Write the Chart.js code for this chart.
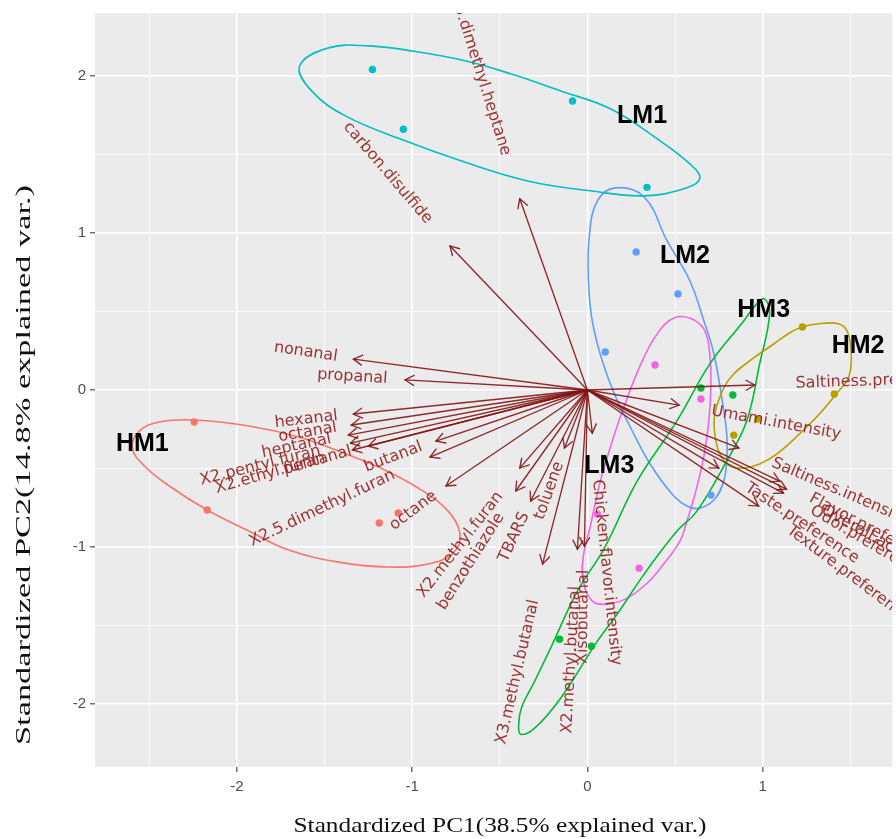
<!DOCTYPE html>
<html><head><meta charset="utf-8">
<script src="https://cdn.jsdelivr.net/npm/chart.js@4/dist/chart.umd.min.js"></script>
<style>html,body{margin:0;padding:0;background:#fff;overflow:hidden}#wrap{width:896px;height:839px;position:relative}</style>
</head><body><div id="wrap"><canvas id="c" width="896" height="839"></canvas></div>
<script>
// ---- axis settings ----
const xTicks = [-2, -1, 0, 1];
const yTicks = [-2, -1, 0, 1, 2];
const xTitle = "Standardized PC1(38.5% explained var.)";
const yTitle = "Standardized PC2(14.8% explained var.)";

// ---- groups ----
const groupNames = ["HM1", "HM2", "HM3", "LM1", "LM2", "LM3"];
const groupColors = ["#F8766D", "#B79F00", "#00BA38", "#00BFC4", "#619CFF", "#F564E3"];

// sample scores (PC1, PC2)
const hm1X = [-2.244, -2.170, -1.188, -1.080];
const hm1Y = [-0.204, -0.764, -0.847, -0.783];
const hm2X = [1.227, 1.409, 0.972, 0.835];
const hm2Y = [0.401, -0.025, -0.185, -0.287];
const hm3X = [0.648, 0.830, -0.159, 0.023];
const hm3Y = [0.013, -0.032, -1.586, -1.631];
const lm1X = [-1.227, -1.050, -0.085, 0.340];
const lm1Y = [2.040, 1.660, 1.840, 1.290];
const lm2X = [0.278, 0.517, 0.102, 0.705];
const lm2Y = [0.879, 0.611, 0.242, -0.669];
const lm3X = [0.386, 0.648, 0.057, 0.295];
const lm3Y = [0.159, -0.057, -0.790, -1.134];

// ellipse outlines (closed curves)
const hm1EllX = [-2.597,-2.557,-2.443,-2.244,-1.932,-1.648,-1.420,-1.193,-0.966,-0.795,-0.727,-0.767,-0.909,-1.136,-1.420,-1.705,-1.932,-2.170,-2.386,-2.528];
const hm1EllY = [-0.369,-0.261,-0.204,-0.191,-0.229,-0.299,-0.389,-0.490,-0.624,-0.771,-0.917,-1.038,-1.108,-1.127,-1.096,-1.019,-0.898,-0.764,-0.611,-0.484];
const hm2EllX = [1.210,1.307,1.438,1.489,1.506,1.489,1.420,1.324,1.210,1.080,0.983,0.892,0.813,0.756,0.727,0.727,0.778,0.835,0.949,1.063,1.153];
const hm2EllY = [0.395,0.420,0.420,0.357,0.204,0.076,-0.025,-0.153,-0.280,-0.408,-0.471,-0.497,-0.484,-0.408,-0.280,-0.153,0.013,0.102,0.204,0.293,0.363];
const hm3EllX = [1.011,1.040,0.983,0.909,0.795,0.625,0.511,0.324,0.170,0.057,-0.153,-0.301,-0.381,-0.392,-0.375,-0.301,-0.210,-0.057,0.097,0.284,0.511,0.699,0.892,0.966];
const hm3EllY = [0.580,0.484,0.166,-0.197,-0.452,-0.771,-0.898,-1.172,-1.427,-1.599,-1.962,-2.153,-2.191,-2.125,-2.020,-1.854,-1.643,-1.280,-1.006,-0.580,-0.197,0.166,0.439,0.548];
const lm1EllX = [-1.642,-1.477,-1.250,-1.006,-0.699,-0.438,-0.153,0.131,0.415,0.585,0.642,0.568,0.324,0.017,-0.341,-0.722,-1.040,-1.381,-1.574];
const lm1EllY = [2.064,2.178,2.191,2.159,2.096,2.013,1.904,1.790,1.586,1.439,1.350,1.287,1.236,1.268,1.331,1.459,1.586,1.745,1.904];
const lm2EllX = [0.159,0.324,0.455,0.585,0.665,0.722,0.767,0.795,0.795,0.778,0.727,0.642,0.568,0.483,0.358,0.256,0.159,0.085,0.028,0.006,0.011,0.057];
const lm2EllY = [1.287,1.229,0.949,0.694,0.439,0.229,-0.051,-0.280,-0.452,-0.580,-0.694,-0.752,-0.739,-0.662,-0.471,-0.261,-0.038,0.185,0.439,0.694,0.981,1.204];
const lm3EllX = [0.494,0.597,0.670,0.699,0.705,0.693,0.665,0.619,0.568,0.528,0.426,0.341,0.227,0.114,0.028,-0.023,-0.023,0.017,0.074,0.142,0.210,0.313,0.398];
const lm3EllY = [0.459,0.452,0.376,0.217,0.025,-0.197,-0.420,-0.643,-0.834,-0.962,-1.121,-1.229,-1.325,-1.363,-1.344,-1.217,-1.057,-0.866,-0.580,-0.325,-0.102,0.185,0.357];

// group label positions
const groupLabelX = [-2.540, 1.545, 1.006, 0.312, 0.557, 0.125];
const groupLabelY = [-0.344, 0.280, 0.510, 1.745, 0.854, -0.484];

// variable loadings (arrows)
const varNames = ["X2.5.dimethyl.heptane","carbon.disulfide","nonanal","propanal","hexanal","octanal","heptanal",
  "X2.pentyl.furan","X2.ethyl.furan","pentanal","butanal","X2.5.dimethyl.furan","octane","X2.methyl.furan",
  "benzothiazole","TBARS","toluene","X3.methyl.butanal","X2.methyl.butanal","Xisobutanal","Chicken.flavor.intensity",
  "Saltiness.preference","Umami.intensity","Saltiness.intensity","Flavor.preference","Overall.acceptability",
  "Odor.preference","Taste.preference","Texture.preference"];
const varX = [-0.386,-0.784,-1.335,-1.040,-1.335,-1.347,-1.364,-1.352,-1.341,-1.250,-0.864,-0.898,-0.807,-0.386,
  -0.409,-0.324,-0.131,-0.256,-0.057,-0.017,0.028,0.955,0.523,0.864,1.097,1.136,1.119,0.750,0.977];
const varY = [1.217,0.917,0.197,0.064,-0.153,-0.223,-0.287,-0.338,-0.382,-0.357,-0.325,-0.427,-0.611,-0.497,
  -0.643,-0.707,-0.369,-1.108,-1.013,-0.994,-0.274,0.032,-0.096,-0.369,-0.580,-0.631,-0.656,-0.497,-0.739];

// ---- build datasets ----
function pts(xs, ys){ return xs.map((v,i)=>({x:v, y:ys[i]})); }
const ellipses = [[hm1EllX,hm1EllY],[hm2EllX,hm2EllY],[hm3EllX,hm3EllY],[lm1EllX,lm1EllY],[lm2EllX,lm2EllY],[lm3EllX,lm3EllY]];
const scores = [[hm1X,hm1Y],[hm2X,hm2Y],[hm3X,hm3Y],[lm1X,lm1Y],[lm2X,lm2Y],[lm3X,lm3Y]];
const datasets = [];
groupNames.forEach((g,i)=>{
  datasets.push({label:g, data:pts(scores[i][0], scores[i][1]), showLine:false, pointRadius:3.7,
    pointBackgroundColor:groupColors[i], pointBorderWidth:0, pointHoverRadius:3.7});
});
groupNames.forEach((g,i)=>{
  datasets.push({label:g+" ellipse", isLoop:true, data:pts(ellipses[i][0], ellipses[i][1]), showLine:true, pointRadius:0,
    borderColor:groupColors[i], borderWidth:1.6, tension:0.4, fill:false});
});

const isMajor = v => Math.abs(v - Math.round(v)) < 1e-9;

const closeLoops = {
  id:'closeLoops',
  afterDatasetsUpdate(chart){
    chart.data.datasets.forEach((d,i)=>{
      if (d.isLoop){
        const m = chart.getDatasetMeta(i);
        if (m.dataset){
          m.dataset._loop = true; m.dataset._fullLoop = true;
          m.dataset._pointsUpdated = false; m.dataset._path = undefined; m.dataset._segments = undefined;
        }
      }
    });
  }
};

const panelBg = {
  id:'panelBg',
  beforeDraw(chart){
    const {ctx, chartArea:a} = chart;
    ctx.save(); ctx.fillStyle = '#EBEBEB';
    ctx.fillRect(a.left, a.top, a.right-a.left, a.bottom-a.top); ctx.restore();
  }
};

const arrows = {
  id:'arrows',
  afterDatasetsDraw(chart){
    const {ctx, chartArea:a} = chart;
    const xs = chart.scales.x, ys = chart.scales.y;
    const ox = xs.getPixelForValue(0), oy = ys.getPixelForValue(0);
    ctx.save();
    ctx.beginPath(); ctx.rect(a.left, a.top, a.right-a.left, a.bottom-a.top); ctx.clip();
    ctx.strokeStyle = 'rgba(130,20,20,0.9)'; ctx.lineWidth = 1.35; ctx.lineCap='round';
    for (let i=0;i<varNames.length;i++){
      const tx = xs.getPixelForValue(varX[i]), ty = ys.getPixelForValue(varY[i]);
      ctx.beginPath(); ctx.moveTo(ox,oy); ctx.lineTo(tx,ty); ctx.stroke();
      const ang = Math.atan2(ty-oy, tx-ox), h = 10, s = Math.PI/6;
      ctx.beginPath();
      ctx.moveTo(tx - h*Math.cos(ang - s), ty - h*Math.sin(ang - s));
      ctx.lineTo(tx, ty);
      ctx.lineTo(tx - h*Math.cos(ang + s), ty - h*Math.sin(ang + s));
      ctx.stroke();
    }
    ctx.fillStyle = 'rgba(145,28,28,0.9)';
    ctx.font = '16px "DejaVu Sans", sans-serif';
    ctx.textBaseline = 'middle';
    for (let i=0;i<varNames.length;i++){
      const tx = xs.getPixelForValue(varX[i]), ty = ys.getPixelForValue(varY[i]);
      const th = Math.atan(varY[i]/varX[i]);
      const w = ctx.measureText(varNames[i]).width;
      ctx.save(); ctx.translate(tx, ty); ctx.rotate(-th);
      if (varX[i] > 0){ ctx.textAlign='left'; ctx.fillText(varNames[i], 0.25*w, 0); }
      else { ctx.textAlign='right'; ctx.fillText(varNames[i], -0.25*w, 0); }
      ctx.restore();
    }
    ctx.restore();
  },
  afterDraw(chart){
    const {ctx} = chart;
    const xs = chart.scales.x, ys = chart.scales.y;
    ctx.save();
    ctx.fillStyle = '#000'; ctx.font = 'bold 25px "Liberation Sans", Arial, sans-serif';
    ctx.textAlign='center'; ctx.textBaseline='middle';
    groupNames.forEach((g,i)=>{
      ctx.fillText(g, xs.getPixelForValue(groupLabelX[i]), ys.getPixelForValue(groupLabelY[i]));
    });
    // axis titles
    ctx.font = '21px "Liberation Serif", "Times New Roman", serif';
    ctx.fillStyle = '#111';
    let w = ctx.measureText(xTitle).width;
    ctx.save(); ctx.translate(500, 826); ctx.scale(413/w, 1); ctx.fillText(xTitle, 0, 0); ctx.restore();
    w = ctx.measureText(yTitle).width;
    ctx.save(); ctx.translate(24, 465); ctx.rotate(-Math.PI/2); ctx.scale(560/w, 1); ctx.fillText(yTitle, 0, 0); ctx.restore();
    ctx.restore();
  }
};

new Chart(document.getElementById('c'), {
  type:'scatter',
  data:{datasets},
  options:{
    responsive:false, animation:false, devicePixelRatio:1,
    layout:{padding:{top:12, right:0, bottom:0, left:0}},
    plugins:{legend:{display:false}, tooltip:{enabled:false}},
    scales:{
      x:{type:'linear', min:-2.81, max:1.74,
        afterBuildTicks(s){ s.ticks = [-2.5,-2,-1.5,-1,-0.5,0,0.5,1,1.5].map(v=>({value:v})); },
        afterFit(s){ s.height = 72; },
        ticks:{autoSkip:false, maxRotation:0, padding:6, color:'#4D4D4D',
          font:{family:'"Liberation Sans", Arial, sans-serif', size:15},
          callback:(v)=> xTicks.includes(v) ? String(v) : ''},
        grid:{color:'#FFFFFF', lineWidth:c=>isMajor(c.tick.value)?1.6:0.8,
          tickColor:c=>isMajor(c.tick.value)?'#4D4D4D':'rgba(0,0,0,0)', tickLength:5, tickWidth:1.2},
        border:{display:false}
      },
      y:{type:'linear', min:-2.4, max:2.4,
        afterBuildTicks(s){ s.ticks = [-2,-1.5,-1,-0.5,0,0.5,1,1.5,2].map(v=>({value:v})); },
        afterFit(s){ s.width = 95; },
        ticks:{autoSkip:false, padding:4, color:'#4D4D4D',
          font:{family:'"Liberation Sans", Arial, sans-serif', size:15},
          callback:(v)=> yTicks.includes(v) ? String(v) : ''},
        grid:{color:'#FFFFFF', lineWidth:c=>isMajor(c.tick.value)?1.6:0.8,
          tickColor:c=>isMajor(c.tick.value)?'#4D4D4D':'rgba(0,0,0,0)', tickLength:5, tickWidth:1.2},
        border:{display:false}
      }
    }
  },
  plugins:[closeLoops, panelBg, arrows]
});
</script></body></html>
